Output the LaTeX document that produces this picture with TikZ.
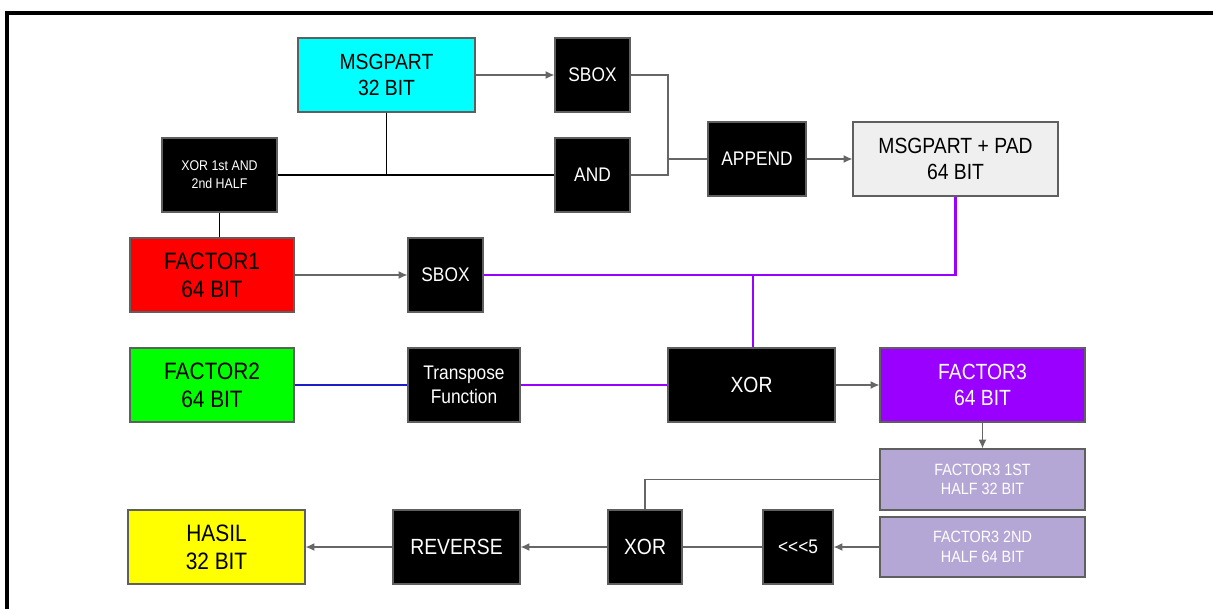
\documentclass[tikz,border=0pt]{standalone}
\usepackage{fontspec}
\setmainfont{Liberation Sans}[FakeStretch=0.88]
\usetikzlibrary{arrows.meta}
\definecolor{msgcyan}{HTML}{00FFFF}
\definecolor{padgray}{HTML}{EFEFEF}
\definecolor{f1red}{HTML}{FF0000}
\definecolor{f2green}{HTML}{00FF00}
\definecolor{f3purple}{HTML}{9900FF}
\definecolor{halfpurple}{HTML}{B4A7D6}
\definecolor{hasilyellow}{HTML}{FFFF00}
\definecolor{wireblue}{HTML}{1C1CC8}
\definecolor{wiregray}{HTML}{666666}
\definecolor{edgegray}{HTML}{5F5F5F}
\begin{document}
\begin{tikzpicture}[
  box/.style={draw=edgegray,line width=0.6pt,align=center,inner sep=1pt,minimum height=1.48cm},
  opbox/.style={box,fill=black,text=white},
  bigtxt/.style={font=\fontsize{13.5}{16}\selectfont},
  midtxt/.style={font=\fontsize{12.5}{15}\selectfont},
  smalltxt/.style={font=\fontsize{11.2}{13.5}\selectfont},
  tinytxt/.style={font=\fontsize{8}{10.4}\selectfont},
  halftxt/.style={font=\fontsize{9.3}{11}\selectfont},
  flow/.style={-{Latex[length=5pt,width=4.5pt]},draw=wiregray,line width=0.8pt},
  gline/.style={draw=wiregray,line width=0.8pt},
  bline/.style={draw=black,line width=1.1pt},
  pline/.style={draw=f3purple,line width=1.4pt}]
  \useasboundingbox (0,0) rectangle (24.26,-12.18);
  % frame
  \draw[line width=2.2pt] (0.14,-12.18) -- (0.14,-0.26) -- (24.26,-0.26);
  % message part
  \node[box,midtxt,fill=msgcyan,minimum width=3.54cm] (msg) at (7.73,-1.5) {MSGPART\\32 BIT};
  \node[opbox,smalltxt,minimum width=1.5cm] (sboxa) at (11.85,-1.5) {SBOX};
  \node[opbox,tinytxt,minimum width=2.3cm] (xorhalf) at (4.39,-3.5) {XOR 1st AND\\2nd HALF};
  \node[opbox,smalltxt,minimum width=1.5cm] (andb) at (11.85,-3.5) {AND};
  \node[opbox,smalltxt,minimum width=1.96cm] (app) at (15.14,-3.18) {APPEND};
  \node[box,midtxt,fill=padgray,minimum width=4.1cm] (pad) at (19.11,-3.18) {MSGPART + PAD\\64 BIT};
  \coordinate (j1) at (13.36,-3.18);
  \draw[flow] (msg) -- (sboxa);
  \draw[bline] (msg.south) -- (msg.south |- xorhalf.east);
  \draw[bline] (xorhalf) -- (andb);
  \draw[gline] (sboxa.east) -| (j1) |- (andb.east);
  \draw[gline] (j1) -- (app);
  \draw[flow] (app) -- (pad);
  % factors
  \node[box,bigtxt,fill=f1red,minimum width=3.28cm] (f1) at (4.24,-5.5) {FACTOR1\\64 BIT};
  \node[opbox,smalltxt,minimum width=1.5cm] (sboxb) at (8.91,-5.5) {SBOX};
  \node[box,bigtxt,fill=f2green,minimum width=3.28cm] (f2) at (4.24,-7.7) {FACTOR2\\64 BIT};
  \node[opbox,smalltxt,minimum width=2.24cm] (trans) at (9.28,-7.7) {Transpose\\Function};
  \node[opbox,midtxt,minimum width=3.34cm] (xora) at (15.03,-7.7) {XOR};
  \node[box,midtxt,fill=f3purple,text=white,minimum width=4.1cm] (f3) at (19.65,-7.7) {FACTOR3\\64 BIT};
  \coordinate (j2) at (15.06,-5.5);
  \draw[bline] (xorhalf.south) -- (f1.north -| xorhalf.south);
  \draw[flow] (f1) -- (sboxb);
  \draw[pline] (pad.south) |- (j2);
  \draw[pline] (sboxb) -- (j2) -- (j2 |- xora.north);
  \draw[draw=wireblue,line width=1.3pt] (f2) -- (trans);
  \draw[pline] (trans) -- (xora);
  \draw[flow] (xora) -- (f3);
  % halves and result
  \node[box,halftxt,fill=halfpurple,text=white,minimum width=4.1cm,minimum height=1.22cm] (f3a) at (19.65,-9.59) {FACTOR3 1ST\\HALF 32 BIT};
  \node[box,halftxt,fill=halfpurple,text=white,minimum width=4.1cm,minimum height=1.2cm] (f3b) at (19.65,-10.94) {FACTOR3 2ND\\HALF 64 BIT};
  \node[opbox,smalltxt,minimum width=1.4cm] (rot) at (15.96,-10.94) {{<}{<}{<}5};
  \node[opbox,midtxt,minimum width=1.48cm] (xorb) at (12.9,-10.94) {XOR};
  \node[opbox,midtxt,minimum width=2.54cm] (rev) at (9.13,-10.94) {REVERSE};
  \node[box,bigtxt,fill=hasilyellow,minimum width=3.54cm] (hasil) at (4.33,-10.94) {HASIL\\32 BIT};
  \draw[flow] (f3) -- (f3a);
  \draw[gline,line width=0.6pt] (f3a.west) -| (xorb.north);
  \draw[flow] (f3b) -- (rot);
  \draw[gline,line width=0.6pt] (rot) -- (xorb);
  \draw[flow] (xorb) -- (rev);
  \draw[flow] (rev) -- (hasil);
\end{tikzpicture}
\end{document}
